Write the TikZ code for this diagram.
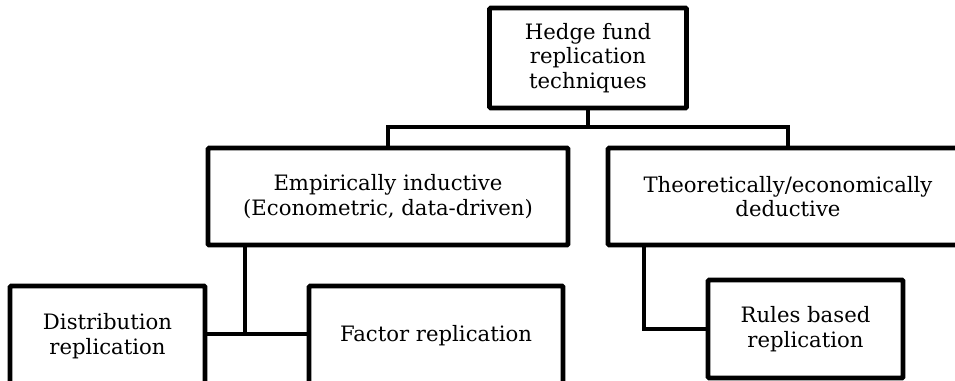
\documentclass[tikz,border=0pt]{standalone}
\usepackage{fontspec}
\setmainfont{DejaVu Serif}
\begin{document}
\begin{tikzpicture}[x=1pt,y=-1pt,
  box/.style={draw=black, line width=4.6pt, rounded corners=1pt, fill=white, align=center,
    inner sep=0pt, font=\fontsize{21.2}{24.5}\selectfont},
  conn/.style={draw=black, line width=4.6pt}]
\useasboundingbox (0,0) rectangle (955,380);
\clip (0,0) rectangle (955,380);
\node[box, minimum width=197pt, minimum height=100pt] (top) at (588,58) {Hedge fund\\replication\\techniques};
\node[box, minimum width=360pt, minimum height=97pt] (emp) at (388,196.5) {Empirically inductive\\(Econometric, data-driven)};
\node[box, minimum width=360pt, minimum height=97pt] (theo) at (788,196.5) {Theoretically/economically\\deductive};
\node[box, minimum width=195pt, minimum height=100pt] (dist) at (107.5,336) {Distribution\\replication};
\node[box, minimum width=254pt, minimum height=100pt] (fact) at (436,336) {Factor replication};
\node[box, minimum width=195pt, minimum height=98pt] (rules) at (805.5,329) {Rules based\\replication};
\coordinate (bar) at (588,127);
\coordinate (ej) at (245,334);
\coordinate (tj) at (644,329);
\draw[conn] (top.south) -- (bar);
\draw[conn] (emp.north) -- (emp.north |- bar) -- (theo.north |- bar) -- (theo.north);
\draw[conn] (emp.south -| ej) -- (ej);
\draw[conn] (dist.east |- ej) -- (fact.west |- ej);
\draw[conn] (theo.south -| tj) -- (tj) -- (rules.west);
\end{tikzpicture}
\end{document}
